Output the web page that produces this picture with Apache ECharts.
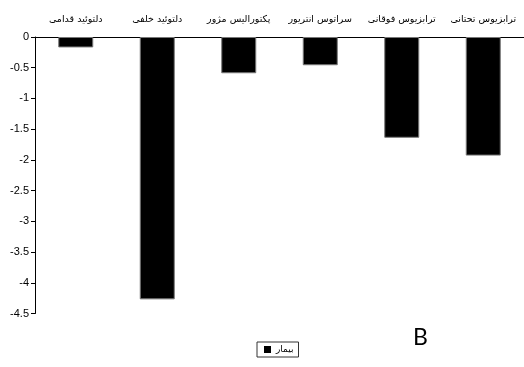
<!DOCTYPE html>
<html>
<head>
<meta charset="utf-8">
<script src="https://cdn.jsdelivr.net/npm/echarts@6/dist/echarts.min.js"></script>
<style>
  html, body { margin: 0; padding: 0; background: #fff; }
  #chart { width: 524px; height: 367px; }
</style>
</head>
<body>
<div id="chart"></div>
<script>
// Muscle groups (RTL labels, left to right as drawn)
const muscles = [
  'دلتوئید قدامی',
  'دلتوئید خلفی',
  'پکتورالیس مژور',
  'سراتوس انتریور',
  'ترابزیوس فوقانی',
  'ترابزیوس تحتانی'
];
// Patient group values
const patientValues = [-0.17, -4.27, -0.59, -0.46, -1.64, -1.93];
const seriesName = 'بیمار';
const panelLetter = 'B';

const chart = echarts.init(document.getElementById('chart'), null, { renderer: 'canvas' });

chart.setOption({
  animation: false,
  backgroundColor: '#ffffff',
  grid: { left: 35, top: 37, width: 494, height: 276.5, containLabel: false },
  xAxis: {
    type: 'category',
    position: 'top',
    data: muscles,
    axisLine: { onZero: false, lineStyle: { color: '#000', width: 1 } },
    axisTick: { inside: true, length: 4, lineStyle: { color: '#000' } },
    axisLabel: {
      margin: 12,
      color: '#000',
      fontSize: 9.5,
      fontFamily: 'DejaVu Sans',
      interval: 0
    },
    splitLine: { show: false }
  },
  yAxis: {
    type: 'value',
    min: -4.5,
    max: 0,
    interval: 0.5,
    axisLine: { show: true, lineStyle: { color: '#000', width: 1 } },
    axisTick: { show: true, length: 4, lineStyle: { color: '#000' } },
    axisLabel: {
      margin: 6,
      color: '#000',
      fontSize: 11,
      fontFamily: 'Liberation Sans'
    },
    splitLine: { show: false }
  },
  legend: {
    data: [seriesName],
    left: 257,
    top: 342,
    icon: 'rect',
    itemWidth: 7,
    itemHeight: 7,
    itemGap: 4,
    padding: [3, 5, 3, 7],
    borderColor: '#333',
    borderWidth: 1,
    itemStyle: { borderWidth: 0 },
    textStyle: { color: '#000', fontSize: 9, fontFamily: 'DejaVu Sans' }
  },
  graphic: [{
    type: 'text',
    left: 413,
    top: 326,
    style: { text: panelLetter, fill: '#000', fontSize: 23, fontFamily: 'Lato' }
  }],
  series: [{
    name: seriesName,
    type: 'bar',
    data: patientValues,
    barWidth: 35,
    itemStyle: { color: '#000', borderColor: '#777', borderWidth: 1 }
  }]
});
</script>
</body>
</html>
